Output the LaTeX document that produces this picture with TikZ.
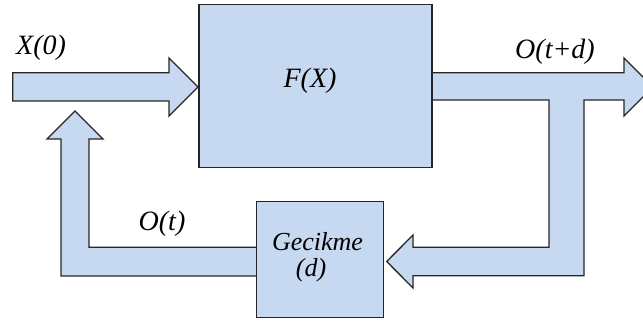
\documentclass[tikz,border=0pt]{standalone}
\usepackage{fontspec}
\setmainfont{Liberation Serif}
\begin{document}
\begin{tikzpicture}[x=1pt,y=-1pt,
  blockfill/.style={fill=blockblue,draw=black!85,line width=1.3pt,line join=miter},
  boxnode/.style={blockfill,rectangle,inner sep=0pt},
  lbl/.style={font=\itshape\fontsize{28}{30}\selectfont,inner sep=0pt},
  glbl/.style={font=\itshape\fontsize{26}{28}\selectfont,inner sep=0pt}]
\definecolor{blockblue}{RGB}{198,217,241}
\useasboundingbox (0,0) rectangle (643,323);
\begin{scope}
\clip (0,0) rectangle (643,323);
% forward path into F(X)
\coordinate (x0) at (12.7,87);
\draw[blockfill] (12.7,72.7) -- (169,72.7) -- (169,58) -- (198,87) -- (169,116) -- (169,101) -- (12.7,101) -- cycle;
% output with the branch back to the delay block
\draw[blockfill] (432,72.7) -- (624,72.7) -- (624,58) -- (653,87) -- (624,116) -- (624,100)
  -- (584,100) -- (584,275.7) -- (413,275.7) -- (413,288) -- (386.7,261.5) -- (413,235)
  -- (413,247.3) -- (549,247.3) -- (549,100) -- (432,100) -- cycle;
% delayed output fed back to the input
\draw[blockfill] (257,247.3) -- (89,247.3) -- (89,139) -- (103,139) -- (75,111) -- (47,139)
  -- (61,139) -- (61,276) -- (257,276) -- cycle;
\end{scope}
% blocks
\node[boxnode,minimum width=233pt,minimum height=163pt] (f) at (315.5,85.7) {};
\node[boxnode,minimum width=126.5pt,minimum height=115.5pt] (g) at (320,259.5) {};
% labels
\node[lbl,anchor=base west] (lx0) at (16,55) {X(0)};
\node[lbl,anchor=base] (lf) at (310,88) {F(X)};
\node[lbl,anchor=base] (lotd) at (555,59) {O(t+d)};
\node[lbl,anchor=base] (lot) at (162,231) {O(t)};
\node[glbl,anchor=base] (lg1) at (317.5,251) {Gecikme};
\node[glbl,anchor=base] (lg2) at (311,277) {(d)};
\end{tikzpicture}
\end{document}
